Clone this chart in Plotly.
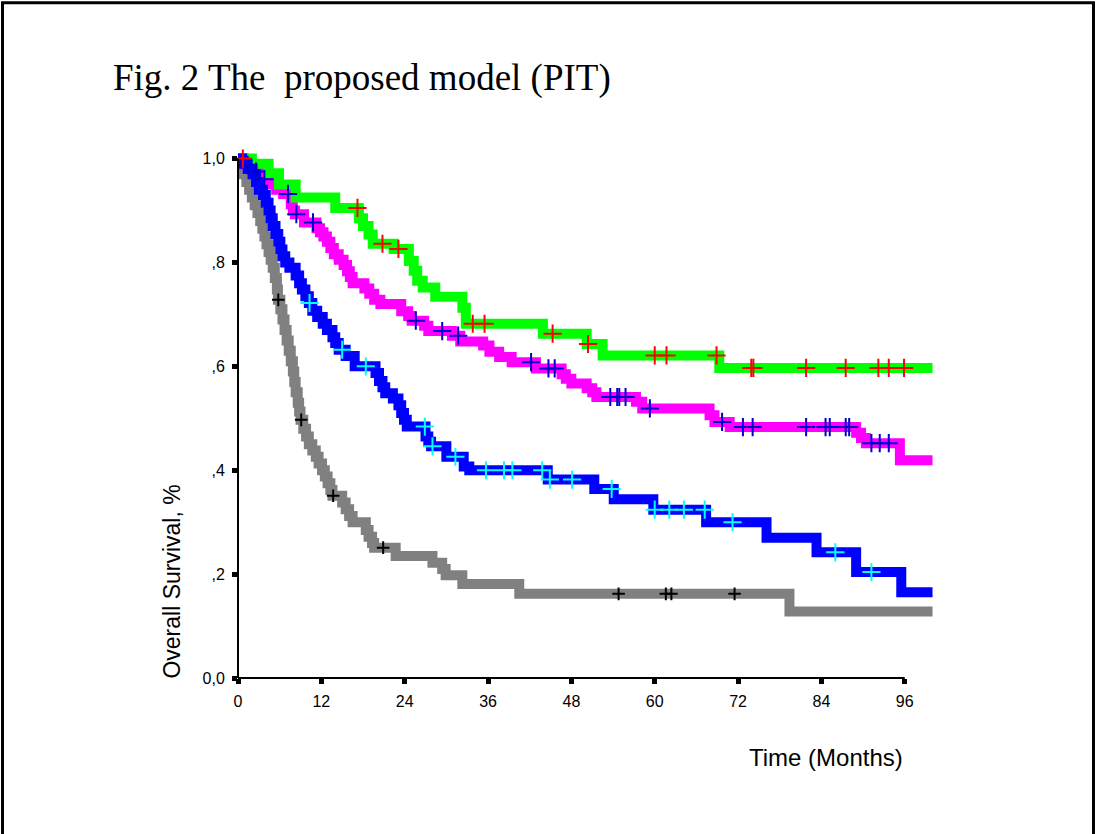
import plotly.graph_objects as go

# ---------------- data ----------------
green_t = [0, 2.0, 4.4, 5.9, 8.3, 14.0, 17.4, 18.0, 18.8, 19.4, 22.4, 24.6, 25.3, 25.8,
           26.6, 28.4, 32.3, 32.8, 43.9, 50.2, 52.5, 69.3, 100]
green_s = [1.0, 0.99, 0.972, 0.95, 0.925, 0.905, 0.885, 0.87, 0.854, 0.836, 0.826, 0.803,
           0.784, 0.765, 0.752, 0.734, 0.713, 0.682, 0.663, 0.643, 0.621, 0.597, 0.597]
green_cens = [0.7, 17.2, 20.8, 23.1, 33.8, 35.5, 45.3, 50.4, 60.0, 61.7, 68.9, 73.9, 74.2,
              81.8, 87.5, 92.2, 93.7, 95.9]

magenta_t = [0, 0.8, 2.0, 3.2, 4.5, 5.5, 6.5, 7.6, 7.9, 8.2, 9.5, 11.3, 11.8, 12.3, 12.8,
             13.3, 13.8, 14.5, 15.2, 15.7, 16.1, 16.5, 18.2, 18.9, 19.6, 20.5, 23.5, 24.5,
             25.0, 26.8, 27.4, 30.8, 32.0, 35.3, 36.2, 37.6, 39.4, 42.9, 46.6, 47.2, 48.0,
             50.2, 51.0, 51.6, 57.3, 58.2, 67.9, 68.6, 70.8, 89.0, 89.7, 90.4, 95.3, 100]
magenta_s = [1.0, 0.988, 0.975, 0.96, 0.95, 0.94, 0.932, 0.912, 0.9, 0.893, 0.877, 0.866,
             0.858, 0.85, 0.84, 0.828, 0.816, 0.805, 0.795, 0.783, 0.772, 0.76, 0.75, 0.74,
             0.728, 0.72, 0.706, 0.697, 0.688, 0.678, 0.668, 0.659, 0.648, 0.64, 0.628,
             0.618, 0.608, 0.596, 0.585, 0.576, 0.567, 0.558, 0.55, 0.541, 0.532, 0.519,
             0.506, 0.493, 0.483, 0.472, 0.462, 0.452, 0.419, 0.419]
magenta_cens = [1.4, 2.6, 3.8, 7.2, 8.4, 10.8, 25.6, 29.4, 31.7, 42.2, 44.7, 45.6, 53.6,
                54.6, 54.9, 55.8, 59.3, 69.7, 72.7, 74.1, 81.8, 84.6, 85.2, 87.5, 88.0,
                91.2, 92.4, 93.7]

blue_t = [0, 0.6, 1.4, 2.1, 2.6, 3.0, 3.6, 4.0, 4.4, 4.7, 5.0, 5.4, 5.8, 6.1, 6.4, 6.8,
          7.4, 8.3, 8.8, 9.2, 9.7, 10.2, 10.7, 11.4, 12.2, 12.8, 13.6, 14.0, 14.5, 15.5,
          16.8, 19.8, 20.3, 20.8, 21.2, 22.3, 23.1, 23.5, 23.9, 24.3, 27.0, 27.4, 27.8,
          30.0, 32.5, 33.3, 44.6, 51.3, 54.1, 59.8, 67.4, 76.1, 83.3, 89.0, 95.5, 100]
blue_s = [1.0, 0.99, 0.98, 0.97, 0.955, 0.94, 0.93, 0.915, 0.9, 0.885, 0.87, 0.855, 0.84,
          0.825, 0.812, 0.8, 0.79, 0.775, 0.76, 0.748, 0.735, 0.722, 0.707, 0.695, 0.682,
          0.67, 0.656, 0.645, 0.632, 0.62, 0.6, 0.587, 0.572, 0.56, 0.548, 0.538, 0.525,
          0.51, 0.497, 0.484, 0.465, 0.455, 0.446, 0.426, 0.407, 0.40, 0.382, 0.364,
          0.344, 0.324, 0.30, 0.27, 0.242, 0.204, 0.165, 0.165]
blue_cens = [10.3, 15.0, 18.4, 26.9, 28.0, 31.3, 35.7, 38.3, 39.5, 43.8, 44.9, 48.1, 53.8,
             60.0, 62.1, 64.2, 67.2, 71.2, 86.0, 91.2]

gray_t = [0, 0.4, 0.8, 1.2, 1.6, 2.0, 2.4, 2.8, 3.2, 3.5, 3.8, 4.1, 4.4, 4.7, 5.0, 5.3,
          5.6, 5.75, 6.1, 6.4, 6.7, 7.0, 7.3, 7.6, 7.9, 8.1, 8.3, 8.6, 8.8, 9.0, 9.4, 9.8,
          10.2, 10.7, 11.2, 11.6, 12.1, 12.5, 12.9, 13.3, 13.6, 15.0, 15.5, 16.0, 16.5,
          18.4, 18.8, 19.3, 19.6, 22.7, 28.0, 29.4, 29.9, 32.3, 40.5, 79.4, 100]
gray_s = [1.0, 0.985, 0.97, 0.955, 0.94, 0.925, 0.91, 0.895, 0.88, 0.865, 0.85, 0.835,
          0.82, 0.805, 0.79, 0.77, 0.748, 0.728, 0.71, 0.69, 0.67, 0.65, 0.63, 0.61, 0.59,
          0.57, 0.55, 0.53, 0.513, 0.497, 0.48, 0.465, 0.45, 0.438, 0.426, 0.413, 0.4,
          0.388, 0.375, 0.362, 0.351, 0.338, 0.325, 0.312, 0.30, 0.285, 0.272, 0.26, 0.251,
          0.235, 0.222, 0.21, 0.198, 0.181, 0.162, 0.128, 0.128]
gray_cens = [5.8, 9.1, 13.7, 20.9, 54.8, 61.6, 62.4, 71.5]

x_ticks = [0, 12, 24, 36, 48, 60, 72, 84, 96]
x_tick_text = ["0", "12", "24", "36", "48", "60", "72", "84", "96"]
y_ticks = [0.0, 0.2, 0.4, 0.6, 0.8, 1.0]
y_tick_text = ["0,0", ",2", ",4", ",6", ",8", "1,0"]

title_text = "Fig. 2 The\u00a0 proposed model (PIT)"
x_title = "Time (Months)"
y_title = "Overall Survival, %"

# ---------------- layout geometry ----------------
W, H = 1096, 834
L, R, T, B = 238, 160, 143, 155.5
PW, PH = W - L - R, H - T - B
X_MAX, Y_MAX = 100.5, 1.03
BOTTOM_PX = H - B


def px_x(px):
    return (px - L) / PW


def px_y(py):
    return (BOTTOM_PX - py) / PH


def surv_at(times, surv, t):
    val = surv[0]
    for ti, si in zip(times, surv):
        if ti <= t:
            val = si
        else:
            break
    return val


curves = [
    (gray_t, gray_s, gray_cens, "#808080", "#000000", 9),
    (magenta_t, magenta_s, magenta_cens, "#FF00FF", "#0000C8", 13),
    (green_t, green_s, green_cens, "#00FF00", "#FF0000", 13),
    (blue_t, blue_s, blue_cens, "#0000FF", "#00FFFF", 13),
]

fig = go.Figure()
for t, s, c, col, ccol, msize in curves:
    fig.add_trace(go.Scatter(x=t, y=s, mode="lines",
                             line=dict(shape="hv", color=col, width=10),
                             hoverinfo="skip", showlegend=False))
for t, s, c, col, ccol, msize in curves:
    fig.add_trace(go.Scatter(x=c, y=[surv_at(t, s, ci) for ci in c], mode="markers",
                             marker=dict(symbol="cross-thin", size=msize,
                                         line=dict(width=2, color=ccol)),
                             cliponaxis=False, hoverinfo="skip", showlegend=False))

tickfont = dict(family="Liberation Sans, Arial", size=16, color="black")
fig.update_layout(
    width=W, height=H,
    margin=dict(l=L, r=R, t=T, b=B, pad=0),
    paper_bgcolor="white", plot_bgcolor="white",
    xaxis=dict(range=[0, X_MAX], showgrid=False, zeroline=False, showline=False,
               ticks="outside", ticklen=5, tickwidth=5, tickcolor="black",
               tickvals=x_ticks, ticktext=x_tick_text, tickfont=tickfont,
               ticklabelstandoff=4, fixedrange=True),
    yaxis=dict(range=[0, Y_MAX], showgrid=False, zeroline=False, showline=False,
               ticks="outside", ticklen=5, tickwidth=5, tickcolor="black",
               tickvals=y_ticks, ticktext=y_tick_text, tickfont=tickfont,
               ticklabelstandoff=4, fixedrange=True),
    shapes=[
        # x axis line, ending at the last tick
        dict(type="line", xref="paper", yref="paper", x0=0, x1=x_ticks[-1] / X_MAX,
             y0=0, y1=0, line=dict(color="black", width=2)),
        # y axis line
        dict(type="line", xref="paper", yref="paper", x0=0, x1=0,
             y0=0, y1=y_ticks[-1] / Y_MAX, line=dict(color="black", width=2)),
        # outer frame
        dict(type="rect", xref="paper", yref="paper",
             x0=px_x(2.5), x1=px_x(W - 2.5), y0=px_y(H + 10), y1=px_y(2.5),
             line=dict(color="black", width=3)),
    ],
    annotations=[
        dict(text=title_text, xref="paper", yref="paper", x=px_x(111), y=px_y(78),
             xanchor="left", yanchor="middle", showarrow=False,
             font=dict(family="Liberation Serif, Times New Roman", size=37, color="black")),
        dict(text=x_title, xref="paper", yref="paper", x=px_x(905), y=px_y(758),
             xanchor="right", yanchor="middle", showarrow=False,
             font=dict(family="Liberation Sans, Arial", size=24, color="black")),
        dict(text=y_title, xref="paper", yref="paper", x=px_x(172), y=px_y(582),
             xanchor="center", yanchor="middle", textangle=-90, showarrow=False,
             font=dict(family="Liberation Sans, Arial", size=23, color="black")),
    ],
)

fig.write_html("out.html")
